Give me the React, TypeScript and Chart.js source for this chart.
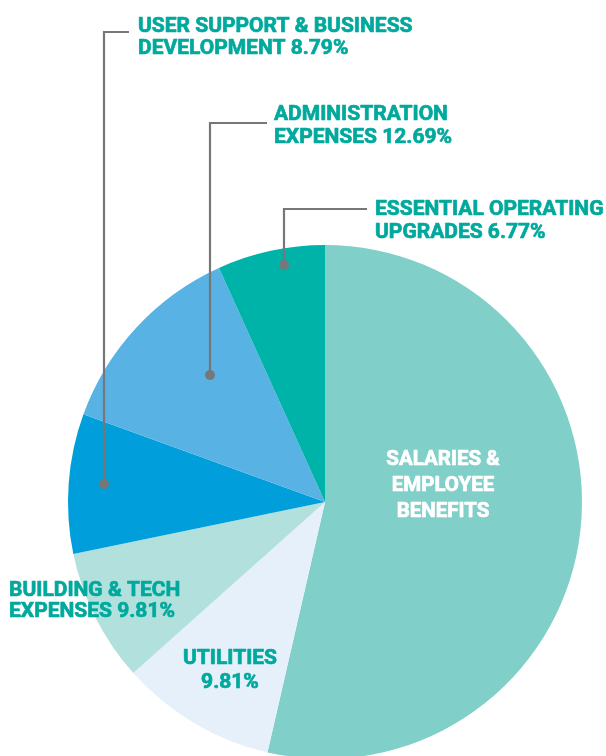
import React, { useEffect, useRef } from "react";
import { Chart, registerables } from "chart.js";

Chart.register(...registerables);

// ---- data (clockwise from 12 o'clock) ----
const categories = [
  "Salaries & Employee Benefits",
  "Utilities",
  "Building & Tech Expenses",
  "User Support & Business Development",
  "Administration Expenses",
  "Essential Operating Upgrades",
];
// slice sizes as drawn in the picture (percent)
const sliceShares = [53.6, 9.81, 8.35, 8.79, 12.69, 6.77];
const sliceColors = ["#81CFC9", "#E6F0FA", "#B2E0DD", "#009FDC", "#59B2E4", "#00B3A8"];

// printed label lines
const salariesLines = ["SALARIES &", "EMPLOYEE", "BENEFITS"];
const utilitiesLines = ["UTILITIES", "9.81%"];
const buildingLines = ["BUILDING & TECH", "EXPENSES 9.81%"];
const userSupportLines = ["USER SUPPORT & BUSINESS", "DEVELOPMENT 8.79%"];
const adminLines = ["ADMINISTRATION", "EXPENSES 12.69%"];
const essentialLines = ["ESSENTIAL OPERATING", "UPGRADES 6.77%"];

const LABEL_COLOR = "#00A99D";
const LEADER_COLOR = "#767779";
const FONT = "bold 21px Roboto, 'DejaVu Sans', sans-serif";
const FONT_SMALL = "bold 20.5px Roboto, 'DejaVu Sans', sans-serif";

type TextBlock = {
  lines: string[];
  x: number;
  baselines: number[];
  align: CanvasTextAlign;
  color: string;
  font: string;
};

const textBlocks: TextBlock[] = [
  { lines: userSupportLines, x: 138, baselines: [32, 54], align: "left", color: LABEL_COLOR, font: FONT },
  { lines: adminLines, x: 274, baselines: [120, 143], align: "left", color: LABEL_COLOR, font: FONT },
  { lines: essentialLines, x: 375, baselines: [215, 238], align: "left", color: LABEL_COLOR, font: FONT },
  { lines: buildingLines, x: 9, baselines: [596, 617], align: "left", color: LABEL_COLOR, font: FONT },
  { lines: utilitiesLines, x: 230, baselines: [664, 688], align: "center", color: LABEL_COLOR, font: FONT },
  { lines: salariesLines, x: 443, baselines: [465, 491, 517], align: "center", color: "#FFFFFF", font: FONT_SMALL },
];

// leader lines: [start of horizontal], corner, dot
const leaders = [
  { from: [129, 32], corner: [104, 32], dot: [104, 484] },
  { from: [267, 123], corner: [210, 123], dot: [210, 375] },
  { from: [367, 209], corner: [284, 209], dot: [284, 265] },
];

const annotationPlugin = {
  id: "annotations",
  afterDraw(chart: any) {
    const ctx: CanvasRenderingContext2D = chart.ctx;
    ctx.save();
    // leaders
    ctx.strokeStyle = LEADER_COLOR;
    ctx.fillStyle = LEADER_COLOR;
    ctx.lineWidth = 2.2;
    ctx.lineJoin = "miter";
    for (const l of leaders) {
      ctx.beginPath();
      ctx.moveTo(l.from[0], l.from[1]);
      ctx.lineTo(l.corner[0], l.corner[1]);
      ctx.lineTo(l.dot[0], l.dot[1]);
      ctx.stroke();
      ctx.beginPath();
      ctx.arc(l.dot[0], l.dot[1], 5, 0, Math.PI * 2);
      ctx.fill();
    }
    // texts (a thin same-colour stroke gives the heavier DIN-like weight)
    ctx.textBaseline = "alphabetic";
    ctx.lineJoin = "round";
    ctx.lineWidth = 0.7;
    for (const b of textBlocks) {
      ctx.font = b.font;
      ctx.fillStyle = b.color;
      ctx.strokeStyle = b.color;
      ctx.textAlign = b.align;
      b.lines.forEach((line, i) => {
        ctx.fillText(line, b.x, b.baselines[i]);
        ctx.strokeText(line, b.x, b.baselines[i]);
      });
    }
    ctx.restore();
  },
};

export default function App() {
  const canvasRef = useRef<HTMLCanvasElement | null>(null);

  useEffect(() => {
    if (!canvasRef.current) return;
    const chart = new Chart(canvasRef.current, {
      type: "pie",
      data: {
        labels: categories,
        datasets: [
          {
            data: sliceShares,
            backgroundColor: sliceColors,
            borderWidth: 0,
            hoverOffset: 0,
          },
        ],
      },
      options: {
        animation: false,
        responsive: false,
        layout: { padding: { left: 68, right: 24, top: 245, bottom: 11 } },
        plugins: {
          legend: { display: false },
          tooltip: { enabled: false },
        },
        events: [],
      },
      plugins: [annotationPlugin],
    });
    return () => chart.destroy();
  }, []);

  return (
    <div
      style={{
        position: "absolute",
        left: 0,
        top: 0,
        width: 606,
        height: 756,
        overflow: "hidden",
        background: "#FFFFFF",
      }}
    >
      <canvas ref={canvasRef} width={606} height={770} style={{ display: "block" }} />
    </div>
  );
}
